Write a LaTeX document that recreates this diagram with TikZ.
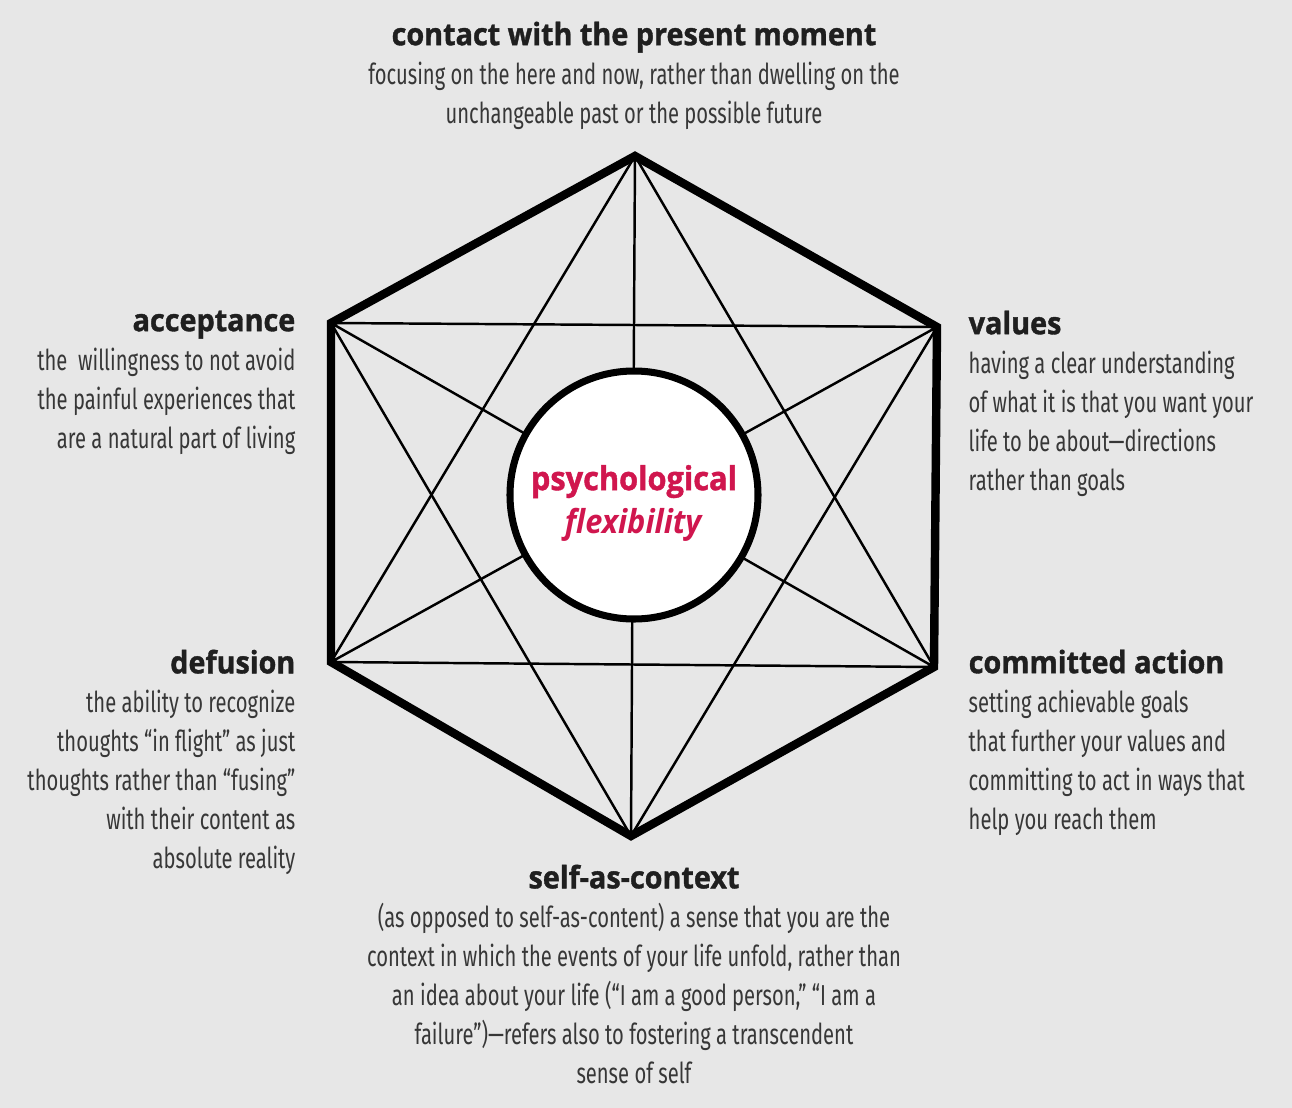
\documentclass[tikz,border=0pt]{standalone}
\usepackage{fontspec}
\setmainfont{Fira Sans}[FakeStretch=0.70]
\newfontfamily\headfont{Open Sans}[FakeStretch=0.93,BoldFeatures={FakeBold=1.2}]
\usetikzlibrary{positioning}
\definecolor{hexbg}{RGB}{231,231,231}
\definecolor{flexred}{RGB}{208,22,78}
\definecolor{bodygray}{RGB}{55,55,55}
\tikzset{
  hexedge/.style   = {line width=2.4pt,line join=miter},
  crossline/.style = {line width=0.7pt},
  procbox/.style   = {inner sep=0pt,text=bodygray,
                      font=\fontsize{8.2}{11.1}\selectfont},
  coretxt/.style   = {inner sep=0pt,align=center,text=flexred,
                      font=\headfont\bfseries\fontsize{9.4}{12.2}\selectfont}
}
\newcommand{\prochead}[1]{{\headfont\bfseries\fontsize{8.8}{11.1}\selectfont\color{black!88}#1}\\}

\begin{document}
\begin{tikzpicture}
  \useasboundingbox (0,0) rectangle (12.92,-11.08);
  \fill[hexbg] (0,0) rectangle (12.92,-11.08);

  % corners of the hexaflex
  \coordinate (pm)  at (6.35,-1.56);
  \coordinate (acc) at (3.31,-3.23);
  \coordinate (val) at (9.37,-3.27);
  \coordinate (def) at (3.31,-6.62);
  \coordinate (com) at (9.34,-6.67);
  \coordinate (sac) at (6.31,-8.36);

  % diagonals
  \foreach \a/\b in {pm/def,pm/com,pm/sac,acc/val,acc/com,acc/sac,
                     val/def,val/sac,def/com}
    \draw[crossline] (\a) -- (\b);
  \draw[hexedge] (pm) -- (val) -- (com) -- (sac) -- (def) -- (acc) -- cycle;

  \node[circle,draw,line width=2pt,fill=white,minimum size=2.48cm,inner sep=0pt]
    (core) at (6.34,-4.95) {};
  \node[coretxt] (coretext) at ([yshift=-0.08cm]core.center)
    {psychological\\\textit{flexibility}};

  % the six processes
  \node[procbox,align=center,anchor=north] (pmtxt) at (6.34,-0.21)
    {\prochead{contact with the present moment}
     focusing on the here and now, rather than dwelling on the\\
     unchangeable past or the possible future};
  \node[procbox,align=right,anchor=north east] (acctxt) at (2.96,-3.10)
    {\prochead{acceptance}
     the\ \ willingness to not avoid\\
     the painful experiences that\\
     are a natural part of living};
  \node[procbox,align=left,anchor=north west] (valtxt) at (9.68,-3.10)
    {\prochead{values}
     having a clear understanding\\
     of what it is that you want your\\
     life to be about---directions\\
     rather than goals};
  \node[procbox,align=right,anchor=north east] (deftxt) at (2.96,-6.49)
    {\prochead{defusion}
     the ability to recognize\\
     thoughts “in flight” as just\\
     thoughts rather than “fusing”\\
     with their content as\\
     absolute reality};
  \node[procbox,align=left,anchor=north west] (comtxt) at (9.68,-6.49)
    {\prochead{committed action}
     setting achievable goals\\
     that further your values and\\
     committing to act in ways that\\
     help you reach them};
  \node[procbox,align=center,anchor=north] (sactxt) at (6.34,-8.64)
    {\prochead{self-as-context}
     (as opposed to self-as-content) a sense that you are the\\
     context in which the events of your life unfold, rather than\\
     an idea about your life (“I am a good person,” “I am a\\
     failure”)---refers also to fostering a transcendent\\
     sense of self};
\end{tikzpicture}
\end{document}
